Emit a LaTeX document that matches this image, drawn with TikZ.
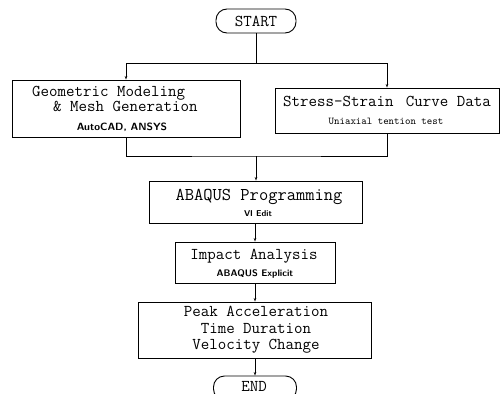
\documentclass[tikz,border=0pt]{standalone}
\usetikzlibrary{arrows.meta}
\begin{document}
\begin{tikzpicture}[x=1pt,y=-1pt,
  box/.style={draw,line width=0.9pt,minimum width=#1,inner sep=0pt},
  term/.style={draw,line width=0.9pt,rounded corners=11pt,inner sep=0pt},
  conn/.style={line width=0.9pt},
  arr/.style={line width=0.9pt,-{Stealth[length=3.5pt,width=2.5pt]}},
  big/.style={font=\fontsize{16.5}{16.5}\ttfamily,inner sep=0pt},
  smallb/.style={font=\fontsize{9.5}{10}\sffamily\bfseries,inner sep=0pt},
  smallr/.style={font=\fontsize{10.4}{12}\ttfamily,inner sep=0pt}]
\useasboundingbox (0,0) rectangle (504,394);
\clip (0,0) rectangle (504,394);
% boxes
\node[term,minimum width=80pt,minimum height=24pt] (start) at (256,21) {};
\node[box=228pt,minimum height=57pt] (geo) at (126,108.5) {};
\node[box=224pt,minimum height=45pt] (ss) at (387,110.5) {};
\node[box=213pt,minimum height=42pt] (abq) at (256,202) {};
\node[box=160pt,minimum height=41pt] (imp) at (255,262.5) {};
\node[box=233pt,minimum height=56pt] (peak) at (255,330) {};
\node[term,minimum width=83pt,minimum height=24pt] (end) at (255,388) {};
% texts
\node[big] (t1) at (256,21) {START};
\node[big,anchor=west] (t2) at (32,93) {Geometric Modeling};
\node[big,anchor=west] (t3) at (53,106.5) {\& Mesh Generation};
\node[smallb,font=\fontsize{10.5}{11}\sffamily\bfseries] (t4) at (122,127.5) {AutoCAD, ANSYS};
\node[big] (t5) at (387,101) {Stress-Strain\hspace{4pt} Curve Data};
\node[smallr] (t6) at (386,121) {Uniaxial tention test};
\node[big,font=\fontsize{18}{20}\ttfamily] (t7) at (259,197) {ABAQUS Programming};
\node[smallb,font=\fontsize{8.5}{10}\sffamily\bfseries] (t8) at (258,214) {VI Edit};
\node[big] (t9) at (254,256) {Impact Analysis};
\node[smallb] (t10) at (255,274) {ABAQUS Explicit};
\node[big,align=center] (t11) at (256,330) {Peak Acceleration\\Time Duration\\Velocity Change};
\node[big] (t14) at (254,386.5) {END};
% connectors
\coordinate (j1) at (256,63);
\coordinate (j2) at (256,156);
\draw[conn] (start.south) -- (j1);
\draw[arr] (j1) -| (geo.north);
\draw[arr] (j1) -| (ss.north);
\draw[conn] (geo.south) |- (j2) -| (ss.south);
\draw[arr] (j2) -- (abq.north);
\draw[arr] (abq.south -| imp.north) -- (imp.north);
\draw[arr] (imp.south) -- (peak.north);
\draw[arr] (peak.south) -- (end.north);
\end{tikzpicture}
\end{document}
